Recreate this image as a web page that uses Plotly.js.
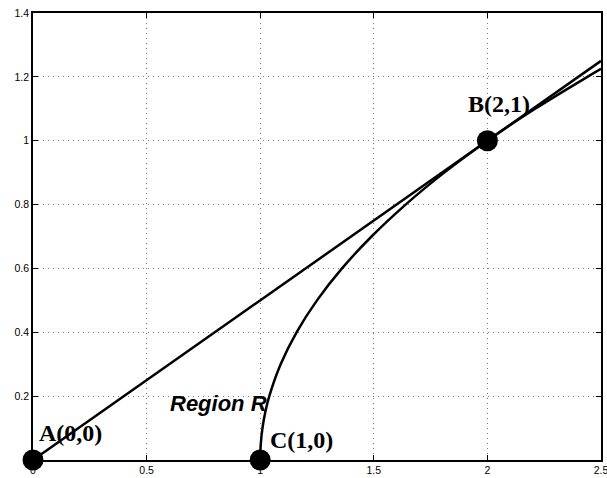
<!DOCTYPE html>
<html>
<head>
<meta charset="utf-8">
<script src="https://cdn.plot.ly/plotly-3.0.1.min.js"></script>
<style>html,body{margin:0;padding:0;background:#fff;}#chart{width:607px;height:478px;}</style>
</head>
<body>
<div id="chart"></div>
<script>
// Straight line from A through B
const lineX = [0, 2.5];
const lineY = [0, 1.25];
// Curve from C through B to the right edge
const curveX = [1, 1.0025, 1.01, 1.0225, 1.04, 1.09, 1.16, 1.25, 1.36, 1.49, 1.64, 1.81, 2, 2.21, 2.44, 2.5];
const curveY = [0, 0.05, 0.1, 0.15, 0.2, 0.3, 0.4, 0.5, 0.6, 0.7, 0.8, 0.9, 1, 1.1, 1.2, 1.225];
// Labelled points
const pointNames = ["A(0,0)", "B(2,1)", "C(1,0)"];
const pointX = [0, 2, 1];
const pointY = [0, 1, 0];
// Label anchor positions (data coords)
const labelX = [0.018, 1.906, 1.034];
const labelY = [0.085, 1.115, 0.063];
const regionText = "Region R";
const regionX = 0.594;
const regionY = 0.177;
// Ticks
const xTicks = [0, 0.5, 1, 1.5, 2, 2.5];
const xTickText = ["0", "0.5", "1", "1.5", "2", "2.5"];
const yTicks = [0.2, 0.4, 0.6, 0.8, 1, 1.2, 1.4];
const yTickText = ["0.2", "0.4", "0.6", "0.8", "1", "1.2", "1.4"];

const traces = [
  {x: lineX, y: lineY, mode: 'lines', line: {color: '#000', width: 2.5}, hoverinfo: 'skip'},
  {x: curveX, y: curveY, mode: 'lines', line: {color: '#000', width: 2.5, shape: 'spline'}, hoverinfo: 'skip'},
  {x: pointX, y: pointY, mode: 'markers', marker: {color: '#000', size: 21}, cliponaxis: false, hoverinfo: 'skip'}
];

const annotations = pointNames.map((t, i) => ({
  x: labelX[i], y: labelY[i], xref: 'x', yref: 'y', text: '<b>' + t + '</b>',
  showarrow: false, xanchor: 'left', yanchor: 'middle',
  font: {family: 'Liberation Serif, Times New Roman, serif', size: 24, color: '#000'}
}));
annotations.push({
  x: regionX, y: regionY, xref: 'x', yref: 'y', text: '<b><i>' + regionText + '</i></b>',
  showarrow: false, xanchor: 'left', yanchor: 'middle',
  font: {family: 'Liberation Sans, Arial, sans-serif', size: 22, color: '#000'}
});

const axisCommon = {
  showline: true, linecolor: '#000', linewidth: 1.8, mirror: 'ticks',
  ticks: 'inside', ticklen: 5, tickcolor: '#000', tickwidth: 1,
  showgrid: true, gridcolor: '#777', gridwidth: 1, griddash: '1px,4px',
  zeroline: false, tickmode: 'array', ticklabeloverflow: 'allow',
  tickfont: {family: 'Liberation Sans, Arial, sans-serif', size: 10.5, color: '#000'}
};

const layout = {
  width: 607, height: 478,
  margin: {l: 33, r: 6, t: 13, b: 18, pad: 0},
  paper_bgcolor: '#fff', plot_bgcolor: '#fff',
  showlegend: false,
  xaxis: Object.assign({}, axisCommon, {range: [0, 2.5], tickvals: xTicks, ticktext: xTickText}),
  yaxis: Object.assign({}, axisCommon, {range: [0, 1.4], tickvals: yTicks, ticktext: yTickText}),
  annotations: annotations
};

Plotly.newPlot('chart', traces, layout, {staticPlot: true, displayModeBar: false});
</script>
</body>
</html>
